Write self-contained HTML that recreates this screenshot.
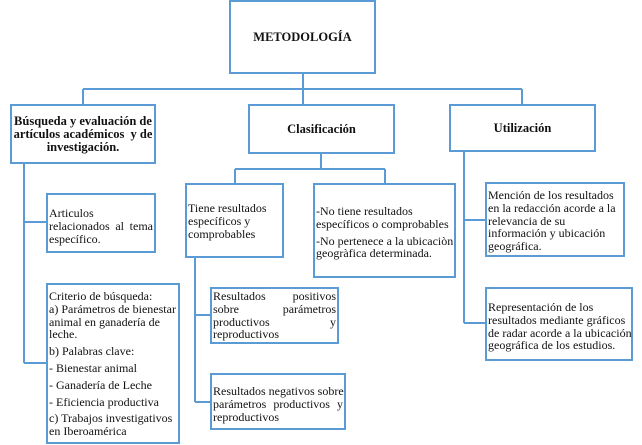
<!DOCTYPE html>
<html><head><meta charset="utf-8"><style>
body{margin:0;width:642px;height:445px;background:#fff;position:relative;overflow:hidden;font-family:"Liberation Serif",serif;color:#111}
.b{position:absolute;border:2px solid #5b9bd5;box-sizing:border-box;background:#fff;font-size:12px;line-height:12.8px;white-space:nowrap}
.h{font-weight:bold;font-size:12.5px;line-height:13px;text-align:center;display:flex;align-items:center;justify-content:center}
.sp{display:flex;justify-content:space-between}
p{margin:0}
svg{position:absolute;left:0;top:0}
</style></head><body>
<svg width="642" height="445"><g stroke="#5b9bd5" stroke-width="2" fill="none">
<path d="M303 73V89M83 89H522M83 89V104M303 89V104M522 89V104"/>
<path d="M321 153V169M235 169H385M235 169V183M385 169V183"/>
<path d="M24 163V363M24 222H46M24 363H46"/>
<path d="M195 258V402M195 315H210M195 402H210"/>
<path d="M464 151V323M464 220H485M464 323H485"/>
</g></svg>
<div class="b h" style="left:229px;top:0;width:147px;height:74px">METODOLOGÍA</div>
<div class="b h" style="left:10px;top:104px;width:146px;height:60px">Búsqueda y evaluación de<br>artículos académicos &nbsp;y de<br>investigación.</div>
<div class="b h" style="left:248px;top:104px;width:147px;height:50px">Clasificación</div>
<div class="b h" style="left:449px;top:104px;width:147px;height:48px">Utilización</div>
<div class="b" style="left:46px;top:193px;width:110px;height:60px;padding:12px 1px 0 1px"><p>Articulos</p><p class="sp"><span>relacionados</span><span>al</span><span>tema</span></p><p>específico.</p></div>
<div class="b" style="left:46px;top:283px;width:134px;height:161px;padding:5px 1px 0 1px">
<p>Criterio de búsqueda:</p><p>a) Parámetros de bienestar</p><p>animal en ganadería de</p><p>leche.</p>
<p style="margin-top:4px">b) Palabras clave:</p><p style="margin-top:4px">- Bienestar animal</p><p style="margin-top:4px">- Ganadería de Leche</p><p style="margin-top:4px">- Eficiencia productiva</p><p style="margin-top:4px">c) Trabajos investigativos</p><p>en Iberoamérica</p></div>
<div class="b" style="left:185px;top:183px;width:99px;height:75px;padding:17px 1px 0 1px">Tiene resultados<br>específicos y<br>comprobables</div>
<div class="b" style="left:313px;top:183px;width:143px;height:95px;padding:20px 1px 0 1px"><p>-No tiene resultados</p><p>específicos o comprobables</p><p style="margin-top:4px">-No pertenece a la ubicaciòn</p><p>geogràfica determinada.</p></div>
<div class="b" style="left:210px;top:287px;width:129px;height:57px;padding:1px 1px 0 1px"><p class="sp"><span>Resultados</span><span>positivos</span></p><p class="sp"><span>sobre</span><span>parámetros</span></p><p class="sp"><span>productivos</span><span>y</span></p><p>reproductivos</p></div>
<div class="b" style="left:210px;top:373px;width:136px;height:57px;padding:10px 1px 0 1px"><p>Resultados negativos sobre</p><p class="sp"><span>parámetros</span><span>productivos</span><span>y</span></p><p>reproductivos</p></div>
<div class="b" style="left:485px;top:182px;width:140px;height:75px;padding:5px 1px 0 1px">Mención de los resultados<br>en la redacción acorde a la<br>relevancia de su<br>información y ubicación<br>geográfica.</div>
<div class="b" style="left:485px;top:287px;width:148px;height:74px;padding:12px 1px 0 1px">Representación de los<br>resultados mediante gráficos<br>de radar acorde a la ubicación<br>geográfica de los estudios.</div>
</body></html>
